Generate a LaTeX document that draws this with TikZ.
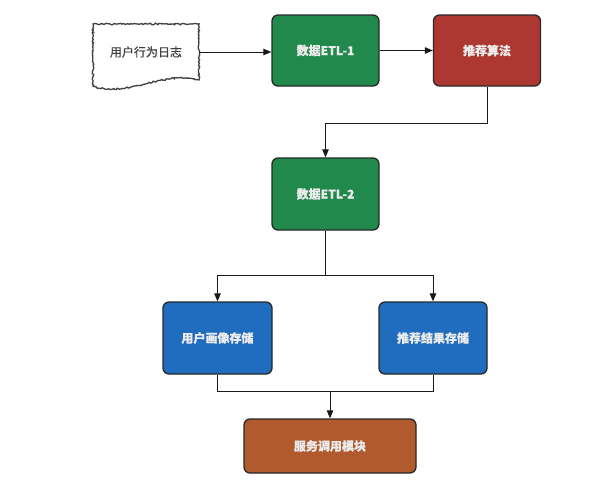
\documentclass[tikz,border=0pt]{standalone}
\usepackage{fontspec}
\setmainfont{Noto Sans CJK SC}[FakeBold=0.6]
\usetikzlibrary{arrows.meta,decorations.pathmorphing}
\definecolor{cgreen}{RGB}{33,137,76}
\definecolor{cred}{RGB}{173,56,50}
\definecolor{cblue}{RGB}{32,108,190}
\definecolor{cbrown}{RGB}{176,90,45}
\definecolor{cedge}{RGB}{40,40,40}
\begin{document}
\begin{tikzpicture}[x=1pt,y=-1pt,
  box/.style={rounded corners=6pt, draw=cedge, line width=1.3pt, minimum width=107pt,
    minimum height=71pt, text=white!92!black, font=\fontsize{12}{14}\selectfont\bfseries, inner sep=0pt},
  arr/.style={-{Triangle[length=8pt,width=6.5pt]}, line width=0.9pt, draw=black!90},
  conn/.style={line width=0.9pt, draw=black!90},
  sketch/.style={decorate, decoration={random steps, segment length=1.5pt, amplitude=0.8pt},
    draw=black!75, line width=1.3pt}]
\useasboundingbox (0,0) rectangle (592,496);
% document shape
\fill[white] (93,24) -- (199,24) -- (199,80)
  .. controls (165,70) and (125,98) .. (93,86) -- cycle;
\draw[sketch] (93,24) -- (199,24) -- (199,80)
  .. controls (165,70) and (125,98) .. (93,86) -- cycle;
\node[inner sep=0pt, minimum width=106pt, minimum height=54pt, text=black!75,
  font=\fontsize{12}{14}\selectfont] (log) at (146,52) {用户行为日志};
\node[box, fill=cgreen] (etl1) at (325.5,50.5) {数据ETL-1};
\node[box, fill=cred] (algo) at (487,50.5) {推荐算法};
\node[box, fill=cgreen, minimum height=72pt] (etl2) at (325.5,194) {数据ETL-2};
\node[box, fill=cblue, minimum width=109pt, minimum height=72pt] (profile) at (217.5,338) {用户画像存储};
\node[box, fill=cblue, minimum width=108pt, minimum height=72pt] (result) at (433,338) {推荐结果存储};
\node[box, fill=cbrown, minimum width=172pt, minimum height=54pt] (service) at (330,446) {服务调用模块};
% connectors
\draw[arr] (log.east) -- (log.east -| etl1.west);
\draw[arr] (etl1.east) -- (algo.west);
\draw[arr] (algo.south) -- ++(0,37) -| (etl2.north);
\path (etl2.south) ++(0,45) coordinate (split);
\draw[conn] (etl2.south) -- (split);
\draw[arr] (split) -| (profile.north);
\draw[arr] (split) -| (result.north);
\path (service.north) ++(0,-27) coordinate (join);
\draw[conn] (profile.south) |- (join);
\draw[conn] (result.south) |- (join);
\draw[arr] (join) -- (service.north);
\end{tikzpicture}
\end{document}
